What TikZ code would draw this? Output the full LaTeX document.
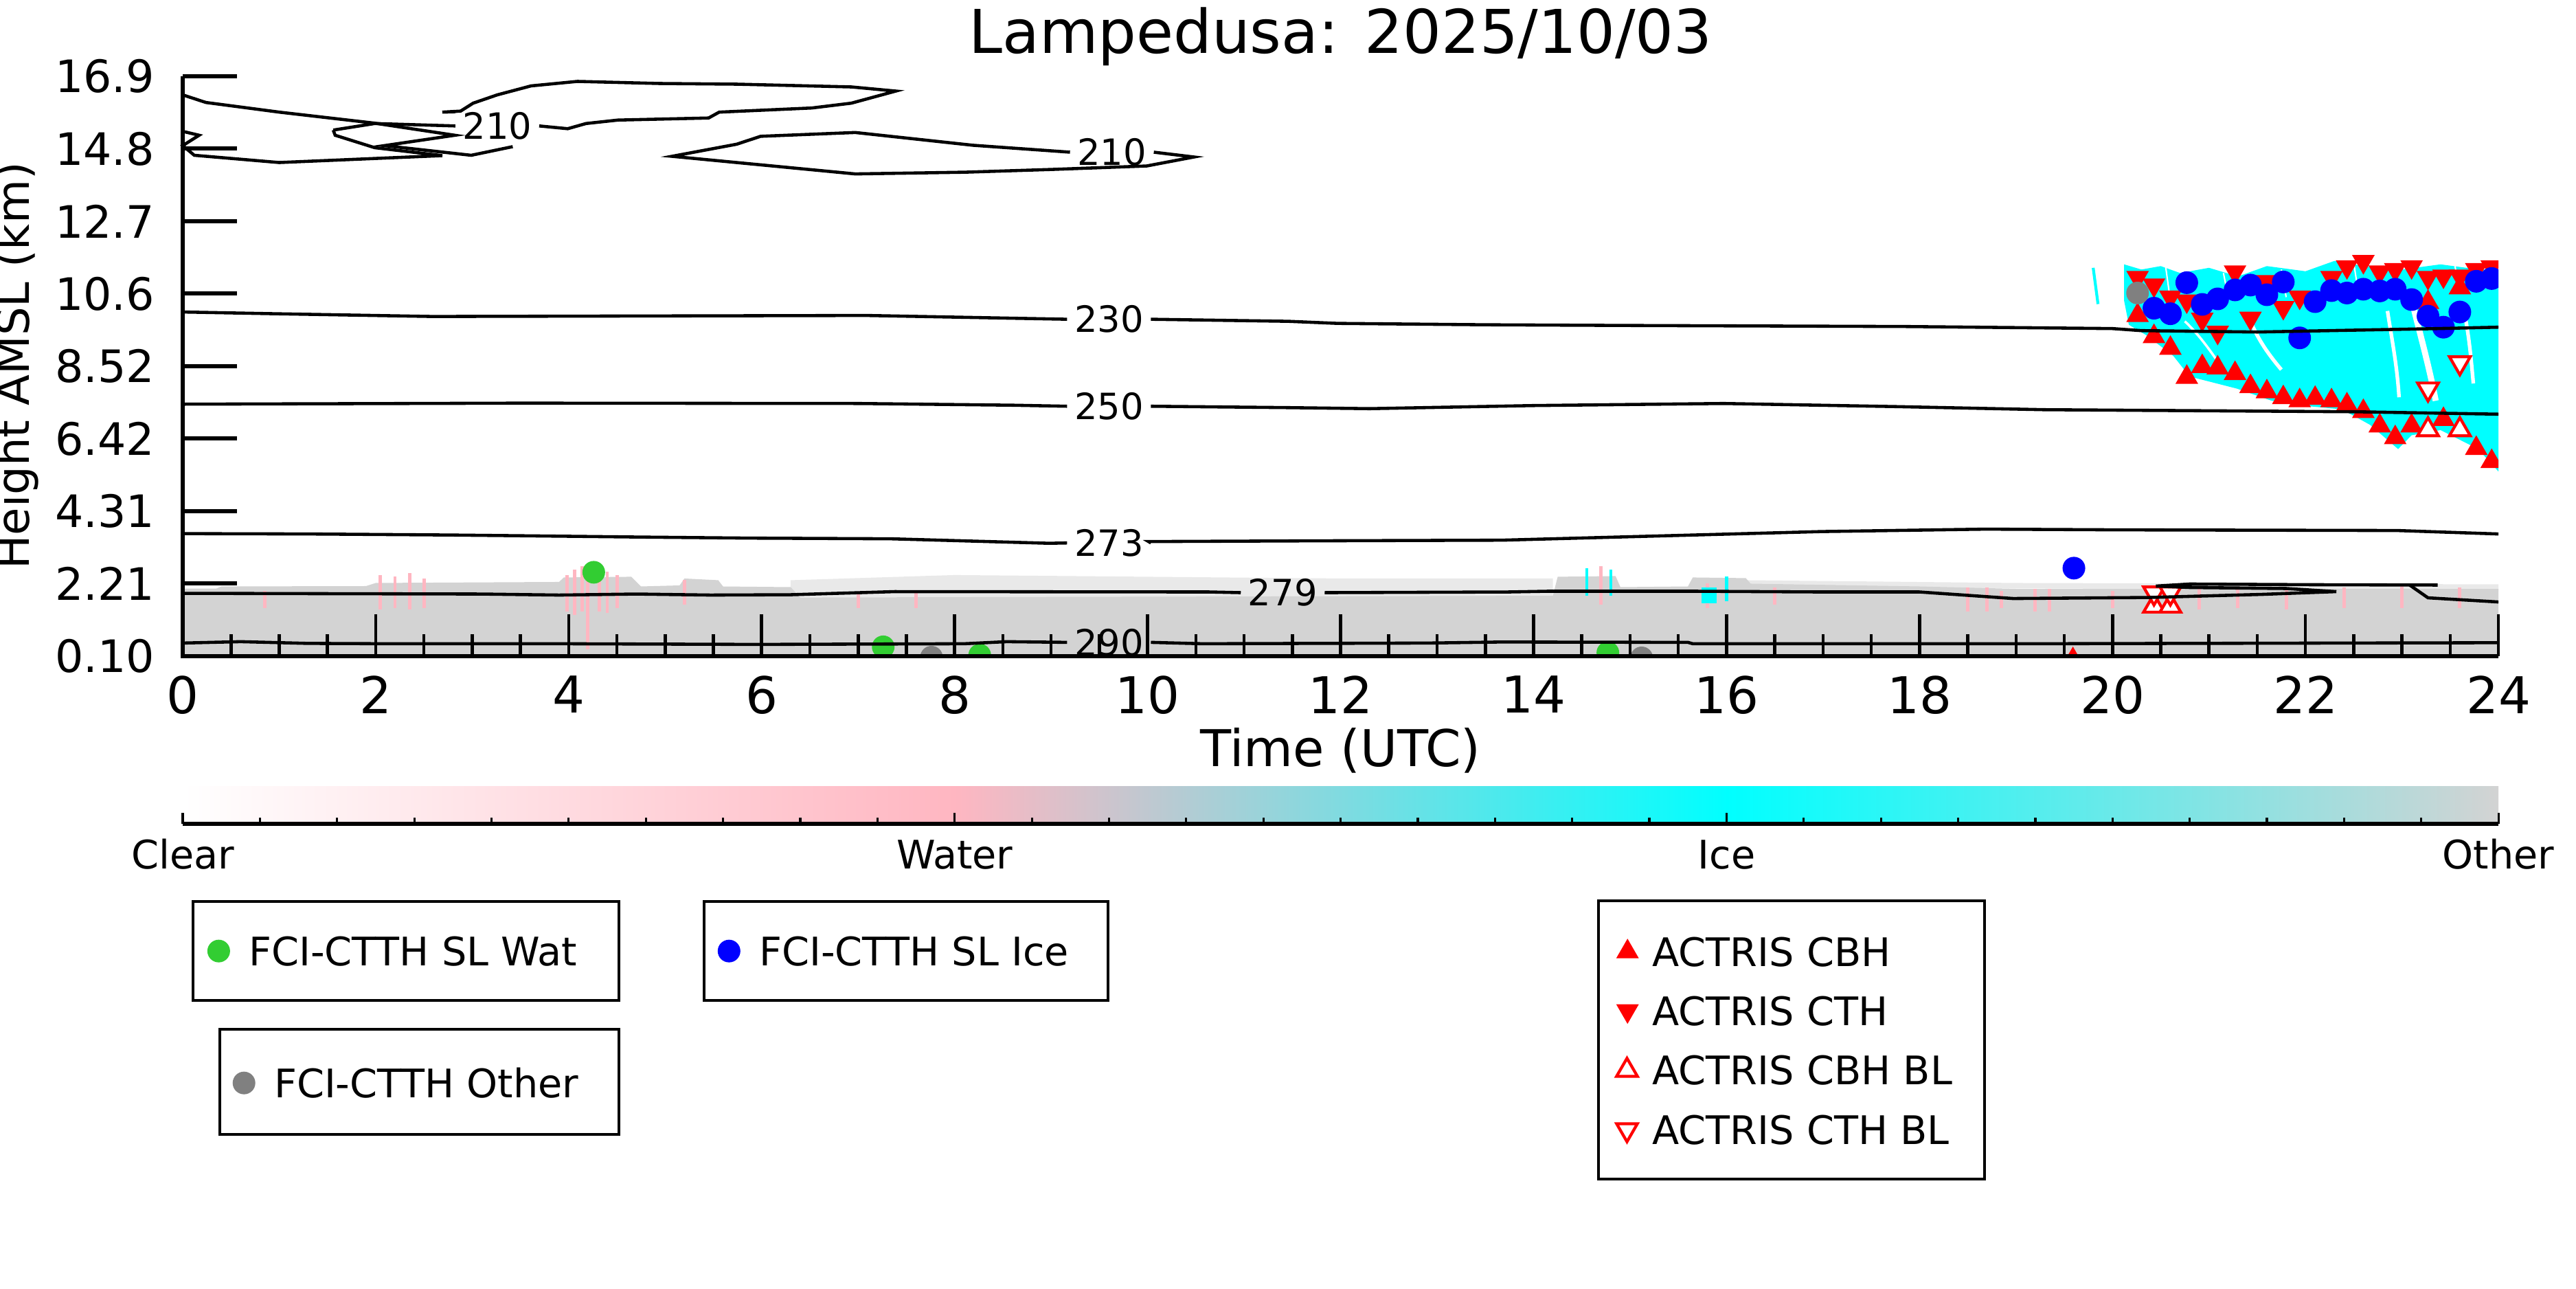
\documentclass[tikz,border=0pt]{standalone}
\usepackage{fontspec}
\setmainfont{DejaVu Sans}
\usetikzlibrary{positioning,shapes.geometric}
\definecolor{watgreen}{RGB}{50,205,50}
\definecolor{othgray}{RGB}{128,128,128}
\definecolor{cldpink}{RGB}{255,182,193}
\definecolor{cldgray}{RGB}{211,211,211}
\definecolor{icecyan}{RGB}{0,255,255}
\tikzset{axline/.style={line width=1.8pt}, ytk/.style={line width=1.7pt}, xtk/.style={line width=1.3pt},
 cline/.style={line width=1.3pt}, legbox/.style={draw, line width=1.3pt, inner sep=0pt}}
\tikzset{titlelbl/.style={font=\fontsize{25}{30}\selectfont, inner sep=0pt, anchor=base},
 axlbl/.style={font=\fontsize{21}{25}\selectfont, inner sep=0pt, anchor=base},
 ylbl/.style={font=\fontsize{18.5}{22}\selectfont, inner sep=0pt},
 xlbl/.style={font=\fontsize{21}{25}\selectfont, inner sep=0pt},
 clbl/.style={font=\fontsize{15}{18}\selectfont, inner xsep=1mm, inner ysep=0pt},
 cblbl/.style={font=\fontsize{16.3}{20}\selectfont, inner sep=0pt, anchor=base},
 legtxt/.style={font=\fontsize{16.3}{20}\selectfont, inner sep=0pt, anchor=base west}}
\tikzset{wat/.style={circle, fill=watgreen, minimum size=3.3mm, inner sep=0pt},
 ice/.style={wat, fill=blue}, oth/.style={wat, fill=othgray},
 cbh/.style={regular polygon, regular polygon sides=3, fill=red, minimum size=3.8mm, inner sep=0pt},
 cth/.style={cbh, shape border rotate=180},
 cbhbl/.style={regular polygon, regular polygon sides=3, draw=red, fill=white, line width=1.2pt, minimum size=3.5mm, inner sep=0pt},
 cthbl/.style={cbhbl, shape border rotate=180}}

\begin{document}
\begin{tikzpicture}
  \useasboundingbox (0,0) rectangle (37.5,18.75);
  \node[titlelbl] (title) at (19.515,17.97) {Lampedusa: 2025/10/03};
  \node[axlbl, font=\fontsize{18.7}{22}\selectfont, rotate=90] (ylab) at (0.42,13.425) {Height AMSL (km)};
  \node[axlbl] (xlab) at (19.515,7.60) {Time (UTC)};

  \begin{scope}[shift={(2.66,9.15)},x=1.4046cm,y=0.5024cm]
   % cloud phase
   \fill[cldgray!50] (6.3,1.8) -- (6.3,2.3) -- (8,2.45) -- (10,2.4) -- (12,2.35) -- (14.2,2.35) -- (14.2,1.8) -- cycle;
   \fill[cldgray!50] (16.2,2.1) -- (16.2,2.3) -- (19,2.22) -- (24,2.18) -- (24,2) -- cycle;
   \fill[cldgray] (0,0.1) -- (0,2.06) -- (0.35,2.06) -- (0.4,2.12) -- (1.9,2.13) -- (2.0,2.22) -- (3.9,2.25)
    -- (3.95,2.38) -- (4.65,2.4) -- (4.75,2.12) -- (5.15,2.15) -- (5.2,2.35) -- (5.55,2.3) -- (5.6,2.12)
    -- (6.3,2.1) -- (6.4,1.8) -- (14.2,1.85) -- (14.25,2.4) -- (14.85,2.42) -- (14.9,2.1) -- (15.6,2.12)
    -- (15.65,2.38) -- (16.2,2.36) -- (16.25,2.2) -- (18.0,2.12) -- (19.0,2.05) -- (24,2.05) -- (24,0.1) -- cycle;
   \draw[cldpink, line width=1.4pt]
    (0.85,1.5) -- (0.85,2.0) (2.05,1.45) -- (2.05,2.45) (2.2,1.5) -- (2.2,2.4) (2.35,1.45) -- (2.35,2.5) (2.5,1.5) -- (2.5,2.35)
    (3.98,1.4) -- (3.98,2.45) (4.06,1.3) -- (4.06,2.6) (4.14,1.4) -- (4.14,2.7) (4.2,0.3) -- (4.2,2.7) (4.32,1.4) -- (4.32,2.65)
    (4.4,1.35) -- (4.4,2.55) (4.5,1.5) -- (4.5,2.45)
    (5.2,1.6) -- (5.2,2.3) (7.0,1.5) -- (7.0,1.9) (7.6,1.5) -- (7.6,1.95) (14.7,1.6) -- (14.7,2.7)
    (15.8,1.5) -- (15.8,2.2) (16.5,1.6) -- (16.5,2.1) (18.5,1.4) -- (18.5,2.1) (18.7,1.4) -- (18.7,2.1) (18.85,1.5) -- (18.85,2.0)
    (19.2,1.4) -- (19.2,2.05) (19.35,1.4) -- (19.35,2.05) (20.0,1.5) -- (20.0,2.0) (20.9,1.45) -- (20.9,2.1) (21.3,1.5) -- (21.3,2.05)
    (21.8,1.45) -- (21.8,2.1) (22.4,1.5) -- (22.4,2.1) (23.0,1.5) -- (23.0,2.15) (23.6,1.5) -- (23.6,2.1);
   \draw[icecyan, line width=1.2pt] (14.55,1.85) -- (14.55,2.65) (14.8,1.85) -- (14.8,2.6) (16.0,1.7) -- (16.0,2.4);
   \fill[icecyan] (15.74,1.63) rectangle (15.9,2.09);
   \fill[icecyan] (20.12,11.45) -- (20.3,11.3) -- (20.5,11.4) -- (20.7,11.2) -- (21.0,11.35) -- (21.3,11.1) -- (21.6,11.4)
    -- (22.0,11.25) -- (22.3,11.55) -- (22.6,11.4) -- (23.0,11.3) -- (23.4,11.45) -- (23.8,11.3) -- (24,11.3)
    -- (24,5.45) -- (23.79,6.1) -- (23.4,6.65) -- (23.1,6.5) -- (22.96,6.1) -- (22.67,6.8) -- (22.38,7.25)
    -- (22.0,7.35) -- (21.65,7.5) -- (21.29,7.85) -- (20.8,8.2) -- (20.63,8.8) -- (20.35,9.4) -- (20.17,9.7) -- (20.12,10.4) -- cycle;
   \draw[icecyan, line width=1.2pt] (19.8,11.35) -- (19.85,10.3);
   \draw[white, line width=0.6pt] (20.55,11.4) -- (20.6,10.4) (21.15,11.2) -- (21.2,10.5)
    (21.75,11.3) -- (21.8,10.5) (22.5,11.5) -- (22.55,10.6) (23.55,11.4) -- (23.6,10.6);
   \draw[white, line width=1.5pt] (22.85,10.1) .. controls (22.9,9.2) and (22.95,8.5) .. (22.97,7.6);
   \draw[white, line width=2.5pt] (23.12,10.2) .. controls (23.2,9.3) and (23.28,8.5) .. (23.35,7.5);
   \draw[white, line width=1.5pt] (23.65,10.0) .. controls (23.7,9.3) and (23.72,8.6) .. (23.74,8.0);
   \draw[white, line width=1.5pt] (21.4,10.0) .. controls (21.5,9.3) and (21.6,8.9) .. (21.75,8.4);
   \draw[white, line width=1pt] (20.75,9.8) .. controls (20.9,9.4) and (21.0,9.0) .. (21.1,8.6);

   % markers
   \begin{scope}
    \clip (0,0.1) rectangle (24,16.9);
    \path node[cbh] (u1) at (20.26,9.97) {} node[cbh] (u2) at (20.43,9.36) {} node[cbh] (u3) at (20.60,9.02) {}
     node[cbh] (u4) at (20.77,8.18) {} node[cbh] (u5) at (20.93,8.49) {} node[cbh] (u6) at (21.09,8.45) {}
     node[cbh] (u7) at (21.27,8.29) {} node[cbh] (u8) at (21.43,7.91) {} node[cbh] (u9) at (21.60,7.76) {}
     node[cbh] (u10) at (21.77,7.59) {} node[cbh] (u11) at (21.94,7.50) {} node[cbh] (u12) at (22.10,7.57) {}
     node[cbh] (u13) at (22.27,7.50) {} node[cbh] (u14) at (22.43,7.38) {} node[cbh] (u15) at (22.60,7.19) {}
     node[cbh] (u16) at (22.77,6.77) {} node[cbh] (u17) at (22.93,6.43) {} node[cbh] (u18) at (23.10,6.77) {}
     node[cbh] (u19) at (23.43,6.96) {} node[cbh] (u20) at (23.77,6.12) {} node[cbh] (u21) at (23.93,5.74) {}
     node[cbh] (u22) at (23.27,10.35) {} node[cbh] (u23) at (23.60,10.77) {} node[cbh] (u24) at (19.59,0.0) {};
    \path node[cth] (d1) at (20.26,11.07) {} node[cth] (d2) at (20.43,10.85) {} node[cth] (d3) at (20.60,10.50) {}
     node[cth] (d4) at (20.77,10.39) {} node[cth] (d5) at (20.93,9.86) {} node[cth] (d6) at (21.09,9.48) {}
     node[cth] (d7) at (21.27,11.23) {} node[cth] (d8) at (21.43,9.89) {} node[cth] (d9) at (21.60,10.95) {}
     node[cth] (d10) at (21.77,10.20) {} node[cth] (d11) at (21.94,10.50) {} node[cth] (d12) at (22.27,11.07) {}
     node[cth] (d13) at (22.43,11.38) {} node[cth] (d14) at (22.60,11.53) {} node[cth] (d15) at (22.77,11.23) {}
     node[cth] (d16) at (22.93,11.30) {} node[cth] (d17) at (23.10,11.38) {} node[cth] (d18) at (23.27,11.07) {}
     node[cth] (d19) at (23.43,11.11) {} node[cth] (d20) at (23.60,11.11) {} node[cth] (d21) at (23.77,11.30) {}
     node[cth] (d22) at (23.93,11.38) {};
    \path node[cbhbl] (ub1) at (23.27,6.66) {} node[cbhbl] (ub2) at (23.60,6.66) {}
     node[cbhbl] (ub3) at (20.43,1.55) {} node[cbhbl] (ub4) at (20.60,1.55) {};
    \path node[cthbl] (db1) at (23.60,8.60) {} node[cthbl] (db2) at (23.27,7.84) {}
     node[cthbl] (db3) at (20.43,1.93) {} node[cthbl] (db4) at (20.60,1.93) {};
    \path node[ice] (i1) at (20.43,10.18) {} node[ice] (i2) at (20.60,10.02) {} node[ice] (i3) at (20.77,10.92) {}
     node[ice] (i4) at (20.93,10.29) {} node[ice] (i5) at (21.09,10.45) {} node[ice] (i6) at (21.27,10.71) {}
     node[ice] (i7) at (21.43,10.85) {} node[ice] (i8) at (21.60,10.57) {} node[ice] (i9) at (21.77,10.94) {}
     node[ice] (i10) at (21.94,9.32) {} node[ice] (i11) at (22.10,10.37) {} node[ice] (i12) at (22.27,10.69) {}
     node[ice] (i13) at (22.43,10.62) {} node[ice] (i14) at (22.60,10.73) {} node[ice] (i15) at (22.77,10.68) {}
     node[ice] (i16) at (22.93,10.73) {} node[ice] (i17) at (23.10,10.43) {} node[ice] (i18) at (23.27,9.95) {}
     node[ice] (i19) at (23.43,9.63) {} node[ice] (i20) at (23.60,10.07) {} node[ice] (i21) at (23.77,10.96) {}
     node[ice] (i22) at (23.93,11.04) {} node[ice] (i23) at (19.60,2.65) {};
    \path node[wat] (w1) at (4.26,2.53) {} node[wat] (w2) at (7.26,0.37) {} node[wat] (w3) at (8.26,0.13) {}
     node[wat] (w4) at (14.77,0.20) {};
    \path node[oth] (o1) at (20.26,10.62) {} node[oth] (o2) at (7.76,0.07) {} node[oth] (o3) at (15.12,0.05) {};
   \end{scope}

   % temperature contours
   \node[clbl] (t210a) at (3.26,15.46) {210};
   \node[clbl] (t210b) at (9.63,14.70) {210};
   \node[clbl] (t230) at (9.60,9.86) {230};
   \node[clbl] (t250) at (9.60,7.34) {250};
   \node[clbl] (t273) at (9.60,3.38) {273};
   \node[clbl] (t279) at (11.40,1.94) {279};
   \node[clbl] (t290) at (9.60,0.50) {290};
   \draw[cline] (0.0,16.36) -- (0.24,16.14) -- (1.0,15.86) -- (1.99,15.54) -- (2.82,15.19) -- (2.09,14.89) -- (2.99,14.61) -- (3.42,14.86);
   \draw[cline] (1.56,15.34) -- (1.99,15.53) -- (t210a.west);
   \draw[cline] (1.56,15.34) -- (1.58,15.19) -- (1.99,14.83) -- (2.69,14.60) -- (1.0,14.4) -- (0.12,14.61) -- (0.0,14.89) -- (0.17,15.19) -- (0.02,15.29);
   \draw[cline] (t210a.north west) -- (2.69,15.86) -- (2.88,15.89) -- (3.01,16.12) -- (3.26,16.36) -- (3.61,16.62) -- (4.09,16.75)
    -- (4.94,16.69) -- (5.74,16.67) -- (6.93,16.59) -- (7.39,16.47) -- (6.93,16.12) -- (6.52,15.98) -- (5.56,15.86) -- (5.45,15.69)
    -- (4.51,15.63) -- (4.18,15.53) -- (3.99,15.38) -- (t210a.east);
   \draw[cline] (t210b.west) -- (8.19,14.9) -- (6.97,15.27) -- (5.99,15.16) -- (5.74,14.93) -- (5.07,14.58) -- (6.97,14.07)
    -- (8.11,14.12) -- (9.01,14.2) -- (9.99,14.3) -- (10.48,14.56) -- (t210b.east);
   \draw[cline] (0,10.07) -- (0.95,10.02) -- (2.59,9.94) -- (7.08,9.97) -- (t230.west);
   \draw[cline] (t230.east) -- (11.46,9.8) -- (11.97,9.74) -- (13.5,9.7) -- (14.94,9.68) -- (17.84,9.65) -- (20.0,9.59)
    -- (20.3,9.53) -- (21.5,9.49) -- (23.37,9.59) -- (24,9.63);
   \draw[cline] (0,7.4) -- (3.5,7.43) -- (7.0,7.42) -- (8.6,7.37) -- (t250.west);
   \draw[cline] (t250.east) -- (11.46,7.3) -- (12.3,7.27) -- (14.0,7.36) -- (15.97,7.42) -- (17.75,7.33) -- (19.29,7.24)
    -- (22.52,7.18) -- (24,7.11);
   \draw[cline] (0,3.65) -- (1.3,3.64) -- (2.76,3.61) -- (3.45,3.59) -- (4.75,3.55) -- (5.87,3.52) -- (7.34,3.5) -- (8.98,3.37) -- (t273.west);
   \draw[cline] (t273.east) -- (10.01,3.42) -- (11.63,3.44) -- (13.67,3.46) -- (16.99,3.71) -- (18.69,3.78) -- (20,3.76)
    -- (22.95,3.74) -- (24,3.64);
   \draw[cline] (0,1.92) -- (3.09,1.90) -- (3.9,1.87) -- (4.7,1.9) -- (5.47,1.87) -- (6.3,1.88) -- (7.38,1.97) -- (10.64,1.96) -- (t279.west);
   \draw[cline] (t279.east) -- (13.74,1.96) -- (14.14,1.98) -- (15.7,1.98) -- (16.98,1.96) -- (18.0,1.96) -- (18.97,1.77)
    -- (20.38,1.80) -- (21.55,1.89) -- (22.32,1.97) -- (21.8,2.06) -- (20.8,2.09) -- (20.45,2.13) -- (20.8,2.19)
    -- (22.06,2.17) -- (23.37,2.16);
   \draw[cline] (23.08,2.16) -- (23.27,1.79) -- (24,1.67);
   \draw[cline] (0,0.48) -- (0.6,0.52) -- (1.3,0.47) -- (2.13,0.46) -- (3.9,0.46) -- (5.95,0.44) -- (8.1,0.46) -- (8.54,0.52) -- (t290.west);
   \draw[cline] (t290.east) -- (10.57,0.46) -- (12.9,0.48) -- (13.66,0.51) -- (15.6,0.5) -- (15.65,0.46) -- (19.19,0.46) -- (24,0.49);

   % axes
   \draw[axline] (0,16.9) -- (0,0.1) -- (24,0.1);
   \draw[ytk] (0,16.9) node[ylbl,left=0.38cm] (y8) {16.9} -- (0.56,16.9);
   \draw[ytk] (0,14.8) node[ylbl,left=0.38cm] (y7) {14.8} -- (0.56,14.8);
   \draw[ytk] (0,12.7) node[ylbl,left=0.38cm] (y6) {12.7} -- (0.56,12.7);
   \draw[ytk] (0,10.6) node[ylbl,left=0.38cm] (y5) {10.6} -- (0.56,10.6);
   \draw[ytk] (0,8.5) node[ylbl,left=0.38cm] (y4) {8.52} -- (0.56,8.5);
   \draw[ytk] (0,6.4) node[ylbl,left=0.38cm] (y3) {6.42} -- (0.56,6.4);
   \draw[ytk] (0,4.3) node[ylbl,left=0.38cm] (y2) {4.31} -- (0.56,4.3);
   \draw[ytk] (0,2.2) node[ylbl,left=0.38cm] (y1) {2.21} -- (0.56,2.2);
   \draw[ytk] (0,0.1) node[ylbl,left=0.38cm] (y0) {0.10} -- (0.56,0.1);
   \draw[xtk] (0,0.1) node[xlbl,below=0.26cm] (x0) {0} -- (0,1.31) (2,0.1) node[xlbl,below=0.26cm] (x2) {2} -- (2,1.31)
    (4,0.1) node[xlbl,below=0.26cm] (x4) {4} -- (4,1.31) (6,0.1) node[xlbl,below=0.26cm] (x6) {6} -- (6,1.31)
    (8,0.1) node[xlbl,below=0.26cm] (x8) {8} -- (8,1.31) (10,0.1) node[xlbl,below=0.26cm] (x10) {10} -- (10,1.31)
    (12,0.1) node[xlbl,below=0.26cm] (x12) {12} -- (12,1.31) (14,0.1) node[xlbl,below=0.26cm] (x14) {14} -- (14,1.31)
    (16,0.1) node[xlbl,below=0.26cm] (x16) {16} -- (16,1.31) (18,0.1) node[xlbl,below=0.26cm] (x18) {18} -- (18,1.31)
    (20,0.1) node[xlbl,below=0.26cm] (x20) {20} -- (20,1.31) (22,0.1) node[xlbl,below=0.26cm] (x22) {22} -- (22,1.31)
    (24,0.1) node[xlbl,below=0.26cm] (x24) {24} -- (24,1.31);
   \draw[xtk] (0.5,0.1) -- (0.5,0.74) (1,0.1) -- (1,0.74) (1.5,0.1) -- (1.5,0.74) (2.5,0.1) -- (2.5,0.74) (3,0.1) -- (3,0.74)
    (3.5,0.1) -- (3.5,0.74) (4.5,0.1) -- (4.5,0.74) (5,0.1) -- (5,0.74) (5.5,0.1) -- (5.5,0.74) (6.5,0.1) -- (6.5,0.74)
    (7,0.1) -- (7,0.74) (7.5,0.1) -- (7.5,0.74) (8.5,0.1) -- (8.5,0.74) (9,0.1) -- (9,0.74) (9.5,0.1) -- (9.5,0.74)
    (10.5,0.1) -- (10.5,0.74) (11,0.1) -- (11,0.74) (11.5,0.1) -- (11.5,0.74) (12.5,0.1) -- (12.5,0.74) (13,0.1) -- (13,0.74)
    (13.5,0.1) -- (13.5,0.74) (14.5,0.1) -- (14.5,0.74) (15,0.1) -- (15,0.74) (15.5,0.1) -- (15.5,0.74) (16.5,0.1) -- (16.5,0.74)
    (17,0.1) -- (17,0.74) (17.5,0.1) -- (17.5,0.74) (18.5,0.1) -- (18.5,0.74) (19,0.1) -- (19,0.74) (19.5,0.1) -- (19.5,0.74)
    (20.5,0.1) -- (20.5,0.74) (21,0.1) -- (21,0.74) (21.5,0.1) -- (21.5,0.74) (22.5,0.1) -- (22.5,0.74) (23,0.1) -- (23,0.74)
    (23.5,0.1) -- (23.5,0.74);
  \end{scope}

  % colour bar
  \begin{scope}[shift={(2.66,6.76)},x=1.1237cm]
   \shade[left color=white,right color=cldpink] (0,0.03) rectangle (10.02,0.55);
   \shade[left color=cldpink,right color=icecyan] (10,0.03) rectangle (20.02,0.55);
   \shade[left color=icecyan,right color=cldgray] (20,0.03) rectangle (30,0.55);
   \draw[line width=1.7pt] (0,0) -- (30,0);
   \draw[line width=0.9pt] (0,0) -- (0,0.16) (10,0) -- (10,0.16) (20,0) -- (20,0.16) (30,0) -- (30,0.16);
   \draw[line width=0.9pt] (1,0) -- (1,0.09) (2,0) -- (2,0.09) (3,0) -- (3,0.09) (4,0) -- (4,0.09) (5,0) -- (5,0.09)
    (6,0) -- (6,0.09) (7,0) -- (7,0.09) (8,0) -- (8,0.09) (9,0) -- (9,0.09) (11,0) -- (11,0.09) (12,0) -- (12,0.09)
    (13,0) -- (13,0.09) (14,0) -- (14,0.09) (15,0) -- (15,0.09) (16,0) -- (16,0.09) (17,0) -- (17,0.09) (18,0) -- (18,0.09)
    (19,0) -- (19,0.09) (21,0) -- (21,0.09) (22,0) -- (22,0.09) (23,0) -- (23,0.09) (24,0) -- (24,0.09) (25,0) -- (25,0.09)
    (26,0) -- (26,0.09) (27,0) -- (27,0.09) (28,0) -- (28,0.09) (29,0) -- (29,0.09);
   \node[cblbl] (cclr) at (0,-0.65) {Clear};
   \node[cblbl] (cwat) at (10,-0.65) {Water};
   \node[cblbl] (cice) at (20,-0.65) {Ice};
   \node[cblbl] (coth) at (30,-0.65) {Other};
  \end{scope}

  % legends
  \node[legbox, minimum width=6.20cm, minimum height=1.44cm] (lw) at (5.91,4.91) {};
  \node[legbox, minimum width=5.88cm, minimum height=1.44cm] (li) at (13.19,4.91) {};
  \node[legbox, minimum width=5.81cm, minimum height=1.53cm] (lo) at (6.105,3.005) {};
  \node[legbox, minimum width=5.62cm, minimum height=4.05cm] (la) at (26.08,3.615) {};
  \node[legtxt] (tw) at (3.616,4.70) {FCI-CTTH SL Wat};
  \node[wat, left=0.26cm of tw] (mw) {};
  \node[legtxt] (ti) at (11.045,4.70) {FCI-CTTH SL Ice};
  \node[ice, left=0.26cm of ti] (mi) {};
  \node[legtxt] (to) at (3.984,2.775) {FCI-CTTH Other};
  \node[oth, left=0.26cm of to] (mo) {};
  \node[legtxt] (ta) at (24.05,4.69) {ACTRIS CBH};
  \node[cbh, left=0.24cm of ta] (ma) {};
  \node[legtxt] (tb) at (24.05,3.83) {ACTRIS CTH};
  \node[cth, left=0.24cm of tb] (mb) {};
  \node[legtxt] (tc) at (24.05,2.965) {ACTRIS CBH BL};
  \node[cbhbl, left=0.24cm of tc] (mc) {};
  \node[legtxt] (td) at (24.05,2.10) {ACTRIS CTH BL};
  \node[cthbl, left=0.24cm of td] (md) {};
\end{tikzpicture}
\end{document}
